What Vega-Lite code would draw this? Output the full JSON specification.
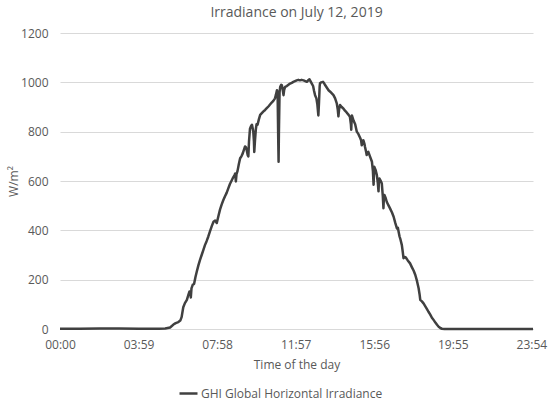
{
  "$schema": "https://vega.github.io/schema/vega-lite/v6.json",
  "autosize": {"type": "none"},
  "width": 473,
  "height": 296,
  "padding": {"left": 60, "top": 33, "right": 17, "bottom": 76},
  "background": "white",
  "title": {
    "text": "Irradiance on July 12, 2019",
    "fontSize": 14,
    "fontWeight": "normal",
    "font": "Open Sans",
    "color": "#595959",
    "anchor": "middle",
    "offset": 7
  },
  "data": {
    "values": [
      {"minute": 0, "ghi": 1}, {"minute": 30, "ghi": 1}, {"minute": 60, "ghi": 1}, {"minute": 120, "ghi": 2},
      {"minute": 180, "ghi": 2}, {"minute": 240, "ghi": 1}, {"minute": 270, "ghi": 1}, {"minute": 300, "ghi": 1},
      {"minute": 320, "ghi": 2}, {"minute": 335, "ghi": 6}, {"minute": 345, "ghi": 18}, {"minute": 352, "ghi": 24},
      {"minute": 360, "ghi": 28}, {"minute": 366, "ghi": 34}, {"minute": 370, "ghi": 48}, {"minute": 375, "ghi": 88},
      {"minute": 380, "ghi": 105}, {"minute": 386, "ghi": 118}, {"minute": 391, "ghi": 140}, {"minute": 394, "ghi": 152},
      {"minute": 397, "ghi": 150}, {"minute": 398, "ghi": 128}, {"minute": 400, "ghi": 165}, {"minute": 404, "ghi": 180},
      {"minute": 408, "ghi": 183}, {"minute": 412, "ghi": 210}, {"minute": 416, "ghi": 232}, {"minute": 421, "ghi": 258},
      {"minute": 426, "ghi": 280}, {"minute": 431, "ghi": 300}, {"minute": 436, "ghi": 320}, {"minute": 441, "ghi": 340},
      {"minute": 446, "ghi": 356}, {"minute": 451, "ghi": 374}, {"minute": 456, "ghi": 395}, {"minute": 462, "ghi": 418},
      {"minute": 467, "ghi": 435}, {"minute": 472, "ghi": 440}, {"minute": 477, "ghi": 430}, {"minute": 482, "ghi": 458},
      {"minute": 487, "ghi": 485}, {"minute": 492, "ghi": 505}, {"minute": 497, "ghi": 523}, {"minute": 502, "ghi": 538},
      {"minute": 507, "ghi": 552}, {"minute": 512, "ghi": 570}, {"minute": 517, "ghi": 588}, {"minute": 523, "ghi": 604},
      {"minute": 527, "ghi": 615}, {"minute": 531, "ghi": 624}, {"minute": 533, "ghi": 630}, {"minute": 535, "ghi": 598},
      {"minute": 537, "ghi": 628}, {"minute": 540, "ghi": 640}, {"minute": 544, "ghi": 668}, {"minute": 548, "ghi": 692},
      {"minute": 552, "ghi": 700}, {"minute": 556, "ghi": 712}, {"minute": 560, "ghi": 728}, {"minute": 563, "ghi": 740},
      {"minute": 566, "ghi": 736}, {"minute": 568, "ghi": 726}, {"minute": 571, "ghi": 705}, {"minute": 573, "ghi": 700},
      {"minute": 575, "ghi": 760}, {"minute": 578, "ghi": 812}, {"minute": 581, "ghi": 822}, {"minute": 584, "ghi": 828},
      {"minute": 586, "ghi": 815}, {"minute": 588, "ghi": 800}, {"minute": 590, "ghi": 760}, {"minute": 591, "ghi": 718},
      {"minute": 593, "ghi": 760}, {"minute": 596, "ghi": 812}, {"minute": 598, "ghi": 830}, {"minute": 601, "ghi": 828},
      {"minute": 605, "ghi": 850}, {"minute": 609, "ghi": 868}, {"minute": 614, "ghi": 875}, {"minute": 619, "ghi": 882},
      {"minute": 624, "ghi": 888}, {"minute": 629, "ghi": 895}, {"minute": 634, "ghi": 902}, {"minute": 639, "ghi": 910},
      {"minute": 644, "ghi": 918}, {"minute": 649, "ghi": 925}, {"minute": 654, "ghi": 935}, {"minute": 657, "ghi": 950},
      {"minute": 660, "ghi": 968}, {"minute": 662, "ghi": 960}, {"minute": 664, "ghi": 760}, {"minute": 665, "ghi": 678},
      {"minute": 666, "ghi": 800}, {"minute": 668, "ghi": 960}, {"minute": 670, "ghi": 982}, {"minute": 673, "ghi": 990},
      {"minute": 675, "ghi": 988}, {"minute": 677, "ghi": 975}, {"minute": 680, "ghi": 948}, {"minute": 682, "ghi": 970},
      {"minute": 685, "ghi": 982}, {"minute": 690, "ghi": 985}, {"minute": 695, "ghi": 990}, {"minute": 700, "ghi": 995},
      {"minute": 705, "ghi": 998}, {"minute": 710, "ghi": 1002}, {"minute": 715, "ghi": 1005}, {"minute": 720, "ghi": 1008},
      {"minute": 725, "ghi": 1010}, {"minute": 730, "ghi": 1008}, {"minute": 735, "ghi": 1010}, {"minute": 741, "ghi": 1008},
      {"minute": 746, "ghi": 1005}, {"minute": 751, "ghi": 1002}, {"minute": 755, "ghi": 1008}, {"minute": 759, "ghi": 1012},
      {"minute": 762, "ghi": 1005}, {"minute": 766, "ghi": 995}, {"minute": 770, "ghi": 985}, {"minute": 773, "ghi": 965},
      {"minute": 776, "ghi": 948}, {"minute": 780, "ghi": 935}, {"minute": 783, "ghi": 910}, {"minute": 785, "ghi": 880},
      {"minute": 786, "ghi": 866}, {"minute": 788, "ghi": 920}, {"minute": 790, "ghi": 985}, {"minute": 791, "ghi": 996},
      {"minute": 795, "ghi": 1000}, {"minute": 800, "ghi": 1002}, {"minute": 804, "ghi": 995}, {"minute": 807, "ghi": 988},
      {"minute": 812, "ghi": 978}, {"minute": 817, "ghi": 968}, {"minute": 822, "ghi": 962}, {"minute": 827, "ghi": 955},
      {"minute": 832, "ghi": 948}, {"minute": 837, "ghi": 935}, {"minute": 842, "ghi": 915}, {"minute": 845, "ghi": 890},
      {"minute": 847, "ghi": 862}, {"minute": 849, "ghi": 890}, {"minute": 852, "ghi": 908}, {"minute": 857, "ghi": 900},
      {"minute": 862, "ghi": 894}, {"minute": 867, "ghi": 885}, {"minute": 872, "ghi": 878}, {"minute": 878, "ghi": 868},
      {"minute": 882, "ghi": 860}, {"minute": 885, "ghi": 830}, {"minute": 886, "ghi": 808}, {"minute": 887, "ghi": 840},
      {"minute": 888, "ghi": 866}, {"minute": 893, "ghi": 845}, {"minute": 898, "ghi": 830}, {"minute": 903, "ghi": 800},
      {"minute": 908, "ghi": 790}, {"minute": 913, "ghi": 775}, {"minute": 916, "ghi": 765}, {"minute": 918, "ghi": 745},
      {"minute": 920, "ghi": 762}, {"minute": 923, "ghi": 765}, {"minute": 926, "ghi": 752}, {"minute": 928, "ghi": 738},
      {"minute": 931, "ghi": 720}, {"minute": 933, "ghi": 705}, {"minute": 935, "ghi": 712}, {"minute": 938, "ghi": 718},
      {"minute": 943, "ghi": 700}, {"minute": 949, "ghi": 678}, {"minute": 952, "ghi": 640}, {"minute": 954, "ghi": 585},
      {"minute": 955, "ghi": 620}, {"minute": 956, "ghi": 658}, {"minute": 960, "ghi": 645}, {"minute": 964, "ghi": 624},
      {"minute": 967, "ghi": 590}, {"minute": 969, "ghi": 558}, {"minute": 970, "ghi": 590}, {"minute": 972, "ghi": 610},
      {"minute": 976, "ghi": 600}, {"minute": 979, "ghi": 590}, {"minute": 982, "ghi": 540}, {"minute": 984, "ghi": 490},
      {"minute": 985, "ghi": 520}, {"minute": 987, "ghi": 543}, {"minute": 991, "ghi": 530}, {"minute": 994, "ghi": 516},
      {"minute": 999, "ghi": 502}, {"minute": 1004, "ghi": 489}, {"minute": 1010, "ghi": 472}, {"minute": 1015, "ghi": 455},
      {"minute": 1020, "ghi": 430}, {"minute": 1025, "ghi": 408}, {"minute": 1028, "ghi": 410}, {"minute": 1030, "ghi": 395},
      {"minute": 1033, "ghi": 375}, {"minute": 1036, "ghi": 362}, {"minute": 1040, "ghi": 340}, {"minute": 1043, "ghi": 310},
      {"minute": 1045, "ghi": 287}, {"minute": 1048, "ghi": 292}, {"minute": 1052, "ghi": 290}, {"minute": 1058, "ghi": 278},
      {"minute": 1065, "ghi": 266}, {"minute": 1070, "ghi": 252}, {"minute": 1076, "ghi": 236}, {"minute": 1081, "ghi": 219},
      {"minute": 1086, "ghi": 195}, {"minute": 1091, "ghi": 165}, {"minute": 1094, "ghi": 140}, {"minute": 1096, "ghi": 118},
      {"minute": 1101, "ghi": 112}, {"minute": 1106, "ghi": 104}, {"minute": 1111, "ghi": 93}, {"minute": 1116, "ghi": 82},
      {"minute": 1121, "ghi": 70}, {"minute": 1126, "ghi": 59}, {"minute": 1131, "ghi": 47}, {"minute": 1137, "ghi": 36},
      {"minute": 1142, "ghi": 26}, {"minute": 1147, "ghi": 17}, {"minute": 1152, "ghi": 9}, {"minute": 1157, "ghi": 4},
      {"minute": 1162, "ghi": 1}, {"minute": 1170, "ghi": 0}, {"minute": 1200, "ghi": 0}, {"minute": 1260, "ghi": 0},
      {"minute": 1320, "ghi": 0}, {"minute": 1380, "ghi": 0}, {"minute": 1439, "ghi": 0}
    ]
  },
  "transform": [
    {"calculate": "'GHI Global Horizontal Irradiance'", "as": "series"}
  ],
  "mark": {"type": "line", "strokeWidth": 2.5, "strokeJoin": "round"},
  "encoding": {
    "x": {
      "field": "minute",
      "type": "quantitative",
      "scale": {"domain": [0, 1439], "nice": false, "zero": false},
      "axis": {
        "title": "Time of the day",
        "values": [0, 239, 478, 717, 956, 1195, 1434],
        "labelExpr": "pad('' + floor(datum.value / 60), 2, '0', 'left') + ':' + pad('' + (datum.value % 60), 2, '0', 'left')",
        "grid": false,
        "ticks": false,
        "tickSize": 0,
        "domainColor": "#d9d9d9",
        "labelPadding": 10,
        "labelFlush": false,
        "titleY": 35,
        "titleBaseline": "middle"
      }
    },
    "y": {
      "field": "ghi",
      "type": "quantitative",
      "scale": {"domain": [0, 1200], "nice": false},
      "axis": {
        "title": "W/m²",
        "format": "d",
        "values": [0, 200, 400, 600, 800, 1000, 1200],
        "domain": false,
        "ticks": false,
        "tickSize": 0,
        "labelPadding": 12,
        "gridColor": "#d9d9d9",
        "titleX": -47,
        "titleY": 148,
        "titleAngle": -90,
        "titleBaseline": "middle",
        "titleAlign": "center"
      }
    },
    "color": {
      "field": "series",
      "type": "nominal",
      "scale": {"range": ["#404040"]},
      "legend": {
        "title": null,
        "orient": "none",
        "legendX": 118,
        "legendY": 350,
        "symbolType": "stroke",
        "symbolSize": 324,
        "symbolStrokeWidth": 2.5,
        "labelFontSize": 12,
        "labelOffset": 2,
        "labelLimit": 400
      }
    }
  },
  "config": {
    "font": "Open Sans",
    "view": {"stroke": null},
    "axis": {
      "labelFont": "Open Sans",
      "labelFontSize": 12,
      "labelColor": "#595959",
      "titleFont": "Open Sans",
      "titleFontSize": 12,
      "titleFontWeight": "normal",
      "titleColor": "#595959"
    },
    "legend": {
      "labelFont": "Open Sans",
      "labelColor": "#595959"
    }
  }
}
